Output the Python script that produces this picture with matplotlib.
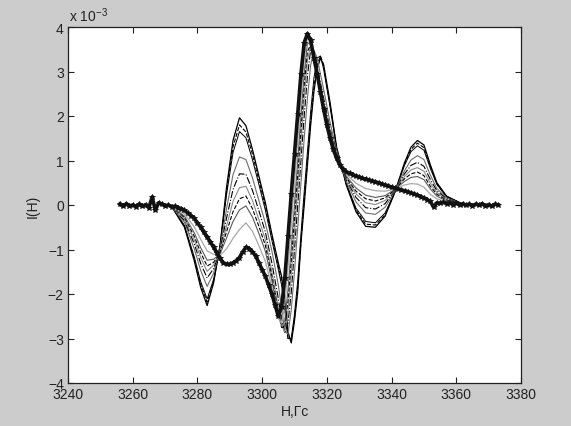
import matplotlib
matplotlib.use("Agg")
import matplotlib.pyplot as plt

plt.rcParams['font.family'] = ['Liberation Sans', 'DejaVu Sans']
plt.rcParams['mathtext.fontset'] = 'custom'
plt.rcParams['mathtext.rm'] = 'Liberation Sans'

# field grid for the thin spectra, Gs
h_grid = [3272, 3276, 3279, 3281, 3283, 3285, 3287, 3289, 3291, 3293, 3295, 3297, 3299, 3301,
          3303, 3305, 3306, 3307, 3308, 3309, 3310, 3311, 3312, 3313, 3314, 3315, 3316, 3317,
          3318, 3319, 3321,
          3323, 3326, 3329, 3332, 3335, 3338, 3341, 3344, 3346, 3348, 3350, 3352, 3354, 3357, 3362]

# intensities, x 1e-3
spec_outer = [-0.03, -0.50, -1.25, -1.85, -2.26, -1.75, -0.90, 0.40, 1.45, 1.96, 1.78, 1.25, 0.65, 0.05,
              -0.65, -1.30, -1.60, -2.10, -2.85, -3.10, -2.60, -1.95, -0.85, 0.00, 0.90, 1.80, 2.55, 3.05, 3.30, 3.15, 2.30,
              1.30, 0.45, -0.15, -0.48, -0.50, -0.25, 0.28, 0.95, 1.30, 1.45, 1.35, 0.90, 0.50, 0.20, 0.02]
spec_1 = [-0.03, -0.48, -1.20, -1.78, -2.18, -1.71, -0.92, 0.31, 1.31, 1.80, 1.64, 1.14, 0.55, -0.03,
          -0.72, -1.38, -1.70, -2.25, -3.00, -3.05, -2.55, -1.85, -0.80, 0.10, 1.00, 1.90, 2.65, 3.15, 3.35, 3.15, 2.25,
          1.29, 0.47, -0.11, -0.43, -0.45, -0.22, 0.29, 0.92, 1.25, 1.39, 1.29, 0.86, 0.48, 0.19, 0.02]
spec_2 = [-0.03, -0.46, -1.16, -1.72, -2.11, -1.67, -0.93, 0.23, 1.18, 1.65, 1.51, 1.02, 0.46, -0.12,
          -0.79, -1.45, -1.80, -2.35, -3.00, -3.00, -2.45, -1.70, -0.65, 0.30, 1.20, 2.10, 2.85, 3.30, 3.35, 3.05, 2.20,
          1.28, 0.48, -0.07, -0.37, -0.40, -0.18, 0.29, 0.89, 1.20, 1.33, 1.23, 0.82, 0.46, 0.18, 0.02]
spec_3 = [-0.04, -0.39, -0.98, -1.47, -1.83, -1.53, -0.98, -0.08, 0.68, 1.08, 1.02, 0.61, 0.10, -0.41,
          -1.03, -1.80, -2.30, -2.85, -2.90, -2.35, -1.50, -0.50, 0.50, 1.50, 2.40, 3.15, 3.48, 3.30, 2.95, 2.60, 1.85,
          1.23, 0.53, 0.07, -0.18, -0.21, -0.05, 0.31, 0.77, 1.01, 1.11, 1.02, 0.67, 0.37, 0.16, 0.02]
spec_4 = [-0.04, -0.35, -0.87, -1.31, -1.64, -1.43, -1.02, -0.29, 0.35, 0.70, 0.69, 0.33, -0.13, -0.61,
          -1.30, -2.10, -2.55, -2.88, -2.65, -1.95, -1.00, 0.00, 1.00, 2.00, 2.90, 3.50, 3.45, 3.10, 2.75, 2.40, 1.70,
          1.20, 0.57, 0.17, -0.06, -0.09, 0.03, 0.32, 0.70, 0.89, 0.96, 0.87, 0.57, 0.32, 0.14, 0.02]
spec_5 = [-0.04, -0.31, -0.78, -1.18, -1.49, -1.35, -1.05, -0.47, 0.08, 0.39, 0.42, 0.10, -0.33, -0.78,
          -1.50, -2.30, -2.70, -2.85, -2.40, -1.55, -0.60, 0.40, 1.40, 2.40, 3.25, 3.60, 3.35, 3.00, 2.65, 2.30, 1.65,
          1.18, 0.60, 0.25, 0.05, 0.01, 0.10, 0.33, 0.64, 0.79, 0.84, 0.76, 0.49, 0.28, 0.12, 0.02]
spec_6 = [-0.04, -0.28, -0.70, -1.07, -1.37, -1.29, -1.07, -0.60, -0.15, 0.14, 0.20, -0.08, -0.48, -0.91,
          -1.60, -2.40, -2.75, -2.75, -2.15, -1.25, -0.30, 0.70, 1.70, 2.70, 3.45, 3.60, 3.30, 2.95, 2.60, 2.25, 1.60,
          1.16, 0.62, 0.31, 0.14, 0.09, 0.16, 0.34, 0.59, 0.70, 0.74, 0.66, 0.42, 0.24, 0.11, 0.02]
spec_7 = [-0.04, -0.25, -0.62, -0.96, -1.24, -1.22, -1.10, -0.74, -0.37, -0.11, -0.02, -0.27, -0.64, -1.04,
          -1.70, -2.45, -2.72, -2.60, -1.90, -0.95, 0.00, 1.00, 2.00, 2.95, 3.65, 3.60, 3.25, 2.90, 2.55, 2.20, 1.55,
          1.14, 0.65, 0.38, 0.22, 0.17, 0.21, 0.35, 0.53, 0.62, 0.64, 0.57, 0.36, 0.20, 0.09, 0.02]
spec_8 = [-0.05, -0.20, -0.49, -0.77, -1.03, -1.11, -1.14, -0.98, -0.75, -0.55, -0.40, -0.59, -0.91, -1.27,
          -1.85, -2.55, -2.65, -2.25, -1.40, -0.45, 0.50, 1.45, 2.40, 3.30, 3.77, 3.60, 3.25, 2.90, 2.50, 2.15, 1.50,
          1.10, 0.69, 0.49, 0.37, 0.32, 0.31, 0.36, 0.45, 0.48, 0.47, 0.40, 0.24, 0.14, 0.07, 0.02]

# final (thick) spectrum, 1 Gs step
h_final = list(range(3256, 3374))
spec_final = [0.02, -0.03, 0.03, -0.02, 0.00, -0.04, 0.02, -0.03, 0.01, -0.06,
              0.18, -0.12, 0.05, 0.02, -0.02, 0.00, -0.04, -0.03, -0.06, -0.08,
              -0.12, -0.18, -0.24, -0.30, -0.40, -0.50, -0.61, -0.72, -0.83, -0.95,
              -1.08, -1.20, -1.30, -1.33, -1.33, -1.30, -1.25, -1.18, -1.05, -0.95,
              -0.98, -1.05, -1.15, -1.30, -1.45, -1.60, -1.80, -2.00, -2.25, -2.50,
              -2.30, -1.65, -0.70, 0.25, 1.15, 2.05, 2.95, 3.65, 3.85, 3.70,
              3.30, 2.95, 2.55, 2.15, 1.80, 1.50, 1.25, 1.05, 0.90, 0.80,
              0.75, 0.71, 0.68, 0.65, 0.63, 0.60, 0.58, 0.56, 0.54, 0.52,
              0.50, 0.47, 0.45, 0.43, 0.40, 0.38, 0.36, 0.34, 0.32, 0.30,
              0.27, 0.25, 0.22, 0.19, 0.16, 0.12, 0.08, -0.05, 0.05, 0.04,
              0.06, 0.03, 0.05, 0.01, 0.04, 0.00, 0.03, -0.01, 0.02, -0.02,
              0.02, 0.00, 0.03, -0.02, 0.01, -0.03, 0.02, 0.00]

x_ticks = [3240, 3260, 3280, 3300, 3320, 3340, 3360, 3380]
y_ticks = [-4, -3, -2, -1, 0, 1, 2, 3, 4]

thin = [spec_outer, spec_1, spec_2, spec_3, spec_4, spec_5, spec_6, spec_7, spec_8]
styles = [('k', '-', 0.9), ('k', '--', 0.8), ('k', '-', 0.7), ('#6e6e6e', '-', 0.8),
          ('k', '-.', 0.8), ('#8a8a8a', '-', 0.8), ('k', '--', 0.8), ('#5a5a5a', '-', 0.8),
          ('#a8a8a8', '-', 0.9)]

fig = plt.figure(figsize=(5.71, 4.27), dpi=100, facecolor='#cccccc')
ax = fig.add_axes([68 / 571, 43 / 427, 453 / 571, 356 / 427])
ax.set_facecolor('white')

for ys, (c, ls, lw) in zip(thin, styles):
    ax.plot(h_grid, ys, color=c, linestyle=ls, linewidth=lw)

ax.plot(h_final, spec_final, color='#111111', linewidth=2.6, marker='*',
        markersize=4, markeredgewidth=0.6)

ax.set_xlim(3240, 3380)
ax.set_ylim(-4, 4)
ax.set_xticks(x_ticks)
ax.set_yticks(y_ticks)
ax.tick_params(direction='in', top=True, right=True, length=4, width=0.8,
               labelsize=10, colors='#222222', pad=3)
for s in ax.spines.values():
    s.set_linewidth(0.9)
    s.set_color('#222222')

ax.set_xlabel('H,Гс', fontsize=10, color='#222222', labelpad=2)
ax.set_ylabel('I(H)', fontsize=10, color='#222222', labelpad=6)
fig.text(69 / 571, 1 - 22 / 427, r'x 10$^{-3}$', fontsize=10, color='#222222')

fig.savefig('out.png', dpi=100, facecolor=fig.get_facecolor())
